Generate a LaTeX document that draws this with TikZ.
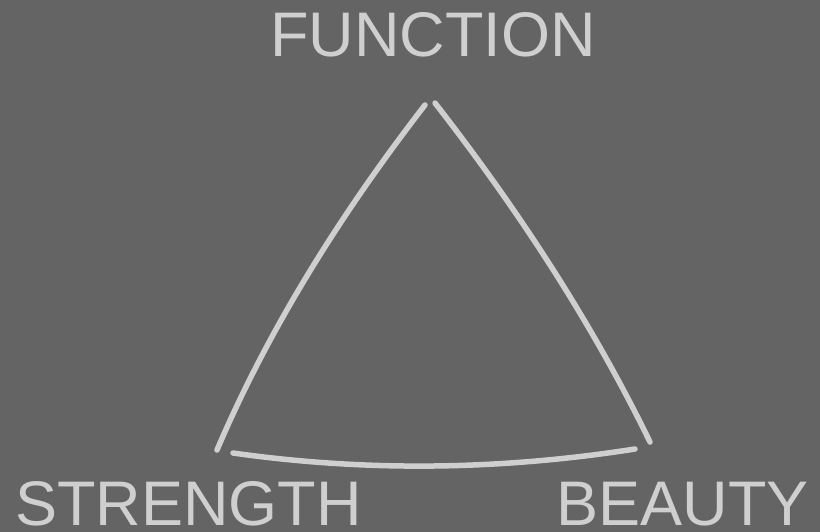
\documentclass[tikz,border=0pt]{standalone}
\usepackage{fontspec}
\setmainfont{Liberation Sans}
\usepackage{xcolor}
\definecolor{clBack}{HTML}{646464}
\definecolor{clChalk}{HTML}{CFCFCF}
\usepackage{tikz}
\usetikzlibrary{positioning}
\tikzset{
  word/.style={inner sep=0pt, text=clChalk, font=\fontsize{63bp}{70bp}\selectfont},
  side/.style={draw=clChalk, line width=5.5bp, line cap=round},
}

\begin{document}
\begin{tikzpicture}[x=1bp,y=-1bp]
  \fill[clBack] (0,0) rectangle (820,532);
  \useasboundingbox (0,0) rectangle (820,532);
  \node[word,anchor=base] (function) at (433,57) {FUNCTION};
  \node[word,anchor=base west] (strength) at (15,525) {STRENGTH};
  \node[word,anchor=base east] (beauty) at (809,525) {BEAUTY};
  \coordinate (leftLow) at (217,450);
  \coordinate (leftTop) at (425,105);
  \coordinate (rightTop) at (435,103);
  \coordinate (rightLow) at (650,442);
  \coordinate (baseLeft) at (233,453);
  \coordinate (baseRight) at (635,449);
  \draw[side] (leftLow) .. controls (266,335) and (336,220) .. (leftTop);
  \draw[side] (rightTop) .. controls (523,216) and (595,329) .. (rightLow);
  \draw[side] (baseLeft) .. controls (367,472) and (501,470) .. (baseRight);
\end{tikzpicture}
\end{document}
